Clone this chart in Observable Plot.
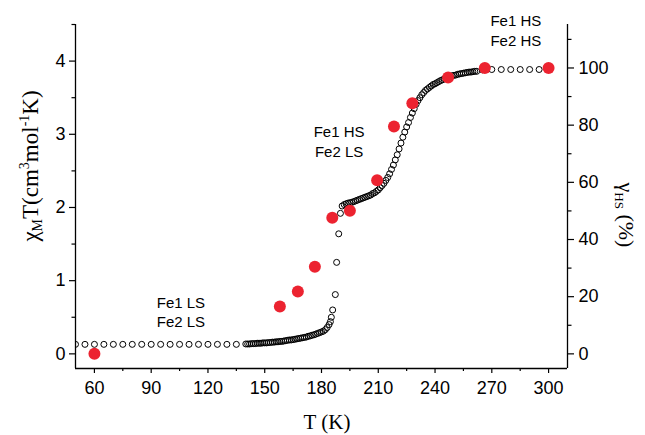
<!DOCTYPE html>
<html>
<head>
<meta charset="utf-8">
<script src="https://cdn.jsdelivr.net/npm/d3@7"></script>
<script src="https://cdn.jsdelivr.net/npm/@observablehq/plot@0.6"></script>
<style>
  html, body { margin: 0; padding: 0; background: #fff; }
</style>
</head>
<body>
<div id="chart"></div>
<script>
// Magnetic data: chi_M T (cm3 mol-1 K) vs T (K), open circles
const tempK = [
  50,55,60,65,70,75,80,85,90,95,100,105,110,115,120,125,130,135,
  140,141,142,143,144,145,146,147,148,149,150,151,152,153,154,155,156,157,158,159,
  160,161,162,163,164,165,166,167,168,169,170,171,172,173,174,175,176,177,178,179,
  180,181,182,183,184,184.7,185.2,185.9,187.3,188.0,189.1,190.0,190.9,
  192,193,194,195,196,197,198,199,200,201,202,203,204,205,206,207,208,209,210,
  211,212,213,214,215,216,217,218,219,220,221,222,223,224,225,226,227,228,229,230,
  231,232,233,234,235,236,237,238,239,240,241,242,243,244,245,246,247,248,249,250,
  251,252,253,254,255,256,257,258,259,260,261,262,
  265,270,275,280,285,290,295,300
];
const chiMT = [
  0.13,0.13,0.13,0.13,0.13,0.13,0.13,0.13,0.13,0.13,0.13,0.13,0.13,0.13,0.13,0.13,0.13,0.13,
  0.135,0.135,0.135,0.14,0.14,0.14,0.145,0.145,0.145,0.15,0.15,0.15,0.155,0.155,0.16,0.16,0.165,0.165,0.17,0.17,
  0.175,0.18,0.185,0.19,0.19,0.195,0.20,0.205,0.21,0.215,0.22,0.225,0.23,0.24,0.245,0.255,0.26,0.27,0.28,0.29,
  0.30,0.31,0.33,0.36,0.40,0.44,0.50,0.60,0.81,1.25,1.64,1.92,2.02,
  2.04,2.05,2.06,2.065,2.07,2.08,2.09,2.10,2.11,2.12,2.13,2.14,2.15,2.16,2.17,2.19,2.20,2.22,2.24,
  2.27,2.30,2.33,2.37,2.41,2.46,2.52,2.58,2.65,2.72,2.80,2.88,2.96,3.03,3.10,3.16,3.23,3.29,3.35,3.41,
  3.46,3.50,3.54,3.57,3.60,3.62,3.64,3.66,3.68,3.69,3.705,3.72,3.735,3.745,3.76,3.77,3.78,3.79,3.80,3.805,
  3.81,3.82,3.825,3.83,3.835,3.84,3.845,3.85,3.85,3.855,3.86,3.86,
  3.88,3.885,3.885,3.885,3.885,3.885,3.885,3.885
];

// High-spin fraction gamma_HS (%) vs T (K), red dots
const hsTemp = [60, 158, 167.5, 176.5, 185.7, 195, 209.4, 218.3, 228, 246.9, 266.3, 300];
const hsPct  = [0, 16.6, 21.8, 30.5, 47.6, 50.1, 60.7, 79.5, 87.7, 96.7, 100, 100];

// Annotations
const noteText = ["Fe1 LS", "Fe2 LS", "Fe1 HS", "Fe2 LS", "Fe1 HS", "Fe2 HS"];
const noteT    = [105.7, 105.7, 189.3, 189.3, 282.7, 282.7];
const noteV    = [0.69, 0.43, 3.03, 2.75, 4.545, 4.27];

// Ticks
const xTicks = [60, 90, 120, 150, 180, 210, 240, 270, 300];
const xMinor = [75, 105, 135, 165, 195, 225, 255, 285];
const yTicks = [0, 1, 2, 3, 4];
const yMinor = [0.5, 1.5, 2.5, 3.5, 4.5];
const pctTicks = [0, 20, 40, 60, 80, 100];
const pctMinor = [10, 30, 50, 70, 90, 110];

// 100 % on the right axis corresponds to this chi_M T value on the left axis
const fullHS = 3.906;
const pctToY = p => p * fullHS / 100;

const magData = tempK.map((t, i) => ({t, v: chiMT[i]}));
const hsData = hsTemp.map((t, i) => ({t, p: hsPct[i]}));
const notes = noteText.map((s, i) => ({s, t: noteT[i], v: noteV[i]}));

const red = "#ec2330";
const sans = "'Liberation Sans', Arial, sans-serif";
const serif = "'Liberation Serif', 'Times New Roman', serif";

const chart = Plot.plot({
  width: 645,
  height: 435,
  marginLeft: 75,
  marginRight: 78,
  marginTop: 24,
  marginBottom: 67,
  style: {background: "#fff", color: "#000", fontFamily: sans, fontSize: "18px"},
  x: {domain: [50, 310]},
  y: {domain: [-0.2, 4.5]},
  marks: [
    Plot.ruleY([-0.2], {stroke: "#000", strokeWidth: 1.3}),
    Plot.ruleX([50], {stroke: "#000", strokeWidth: 1.3}),
    Plot.ruleX([310], {stroke: "#000", strokeWidth: 1.3}),
    Plot.axisX({ticks: xTicks, tickSize: 5, tickPadding: 8, label: null, fontSize: 18, strokeWidth: 1.2}),
    Plot.axisX({ticks: xMinor, tickSize: 3, tickFormat: () => "", label: null, strokeWidth: 1.2}),
    Plot.axisY({ticks: yTicks, tickSize: 6, tickPadding: 4, tickFormat: d => String(d), label: null, fontSize: 18, strokeWidth: 1.2}),
    Plot.axisY({ticks: yMinor, tickSize: 3.5, tickFormat: () => "", label: null, strokeWidth: 1.2}),
    Plot.axisY({anchor: "right", ticks: pctTicks.map(pctToY), tickFormat: d => String(Math.round(d / fullHS * 100)),
      tickSize: 6, tickPadding: 5, label: null, fontSize: 18, strokeWidth: 1.2}),
    Plot.axisY({anchor: "right", ticks: pctMinor.map(pctToY), tickSize: 3.5, tickFormat: () => "", label: null, strokeWidth: 1.2}),
    Plot.dot(magData, {x: "t", y: "v", r: 3, stroke: "#000", strokeWidth: 1, fill: "none", clip: true}),
    Plot.dot(hsData, {x: "t", y: d => pctToY(d.p), r: 6, fill: red, stroke: "none"}),
    Plot.text(notes, {x: "t", y: "v", text: "s", fontSize: 15, fill: "#000", textAnchor: "middle", fontFamily: sans})
  ]
});

const svg = d3.select(chart);
// bottom axis title
svg.append("text")
  .attr("x", 327).attr("y", 429)
  .attr("text-anchor", "middle")
  .attr("font-family", serif).attr("font-size", 21).attr("fill", "#000")
  .text("T (K)");

// left axis title: chi_M T (cm^3 mol^-1 K)
const lt = svg.append("text")
  .attr("transform", "translate(38,166) rotate(-90)")
  .attr("text-anchor", "middle")
  .attr("font-family", serif).attr("font-size", 23).attr("fill", "#000");
lt.append("tspan").text("χ");
lt.append("tspan").attr("font-size", 14).attr("dy", 4).text("M");
lt.append("tspan").attr("dy", -4).text("T(cm");
lt.append("tspan").attr("font-size", 14).attr("dy", -9).text("3");
lt.append("tspan").attr("dy", 9).text("mol");
lt.append("tspan").attr("font-size", 14).attr("dy", -9).text("-1");
lt.append("tspan").attr("dy", 9).text("K)");

// right axis title: gamma_HS (%)
const rt = svg.append("text")
  .attr("transform", "translate(619,215) rotate(90)")
  .attr("text-anchor", "middle")
  .attr("font-family", serif).attr("font-size", 22).attr("fill", "#000");
rt.append("tspan").text("γ");
rt.append("tspan").attr("font-size", 13).attr("dy", 4).text("HS");
rt.append("tspan").attr("dy", -4).text(" (%)");

document.getElementById("chart").appendChild(chart);
</script>
</body>
</html>
